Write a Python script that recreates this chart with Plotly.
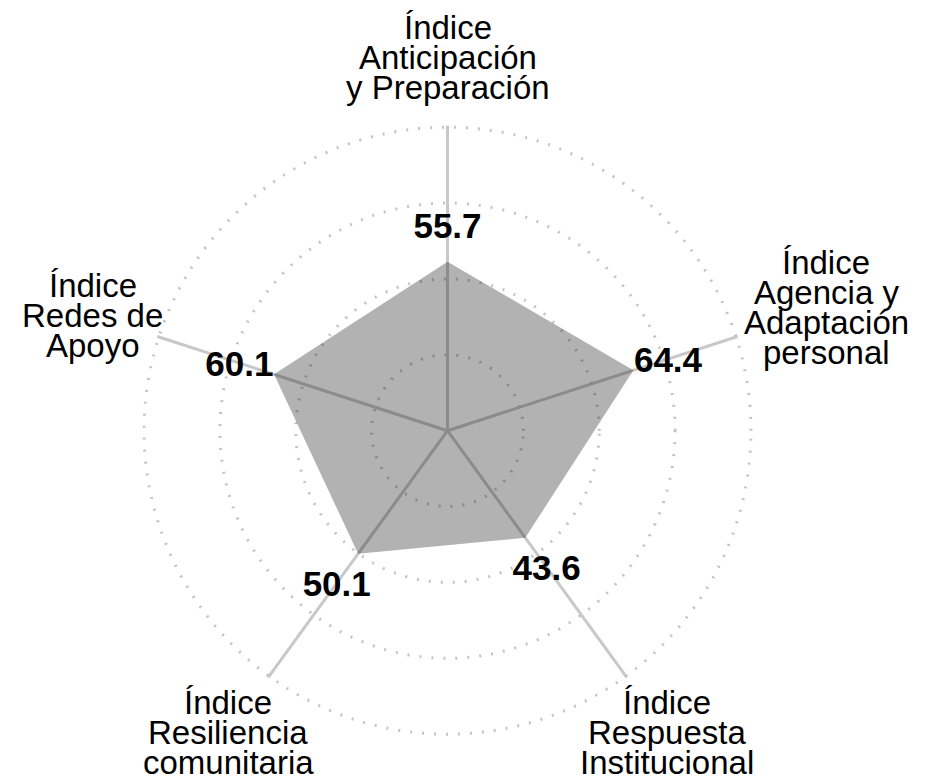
import math

import plotly.graph_objects as go

# categories in clockwise order, starting at the top
CATEGORIES = [
    "Índice<br>Anticipación<br>y Preparación",
    "Índice<br>Agencia y<br>Adaptación<br>personal",
    "Índice<br>Respuesta<br>Institucional",
    "Índice<br>Resiliencia<br>comunitaria",
    "Índice<br>Redes de<br>Apoyo",
]
VALUES = [55.7, 64.4, 43.6, 50.1, 60.1]
GRID_TICKS = [25, 50, 75, 100]
RANGE_MAX = 100.5

WIDTH, HEIGHT = 939, 784
PAGE_OFFSET = 8                                   # default body margin of the html page
CENTER_X, CENTER_Y, RADIUS = 447.5 - PAGE_OFFSET, 430.7 - PAGE_OFFSET, 305
LABEL_DIST = [373, 398, 373, 373, 373]           # pixels from centre
LINE_STEP = 30
VALUE_OFFSET = 12                                 # radial units
VALUE_DROP = 4.5                                  # px, to centre the digits on the point
FONT = "Liberation Sans, Arial, sans-serif"


def polar_domain(drop=0.0):
    cy = CENTER_Y + drop
    return dict(
        x=[(CENTER_X - RADIUS) / WIDTH, (CENTER_X + RADIUS) / WIDTH],
        y=[1 - (cy + RADIUS) / HEIGHT, 1 - (cy - RADIUS) / HEIGHT],
    )


def build_figure():
    fig = go.Figure()

    fig.add_trace(
        go.Scatterpolar(
            r=VALUES,
            theta=CATEGORIES,
            mode="lines",
            fill="toself",
            fillcolor="rgba(0,0,0,0.3)",
            line=dict(width=0, color="rgba(0,0,0,0)"),
            hoverinfo="skip",
        )
    )
    fig.add_trace(
        go.Scatterpolar(
            r=[v + VALUE_OFFSET for v in VALUES],
            theta=CATEGORIES,
            mode="text",
            text=[f"{v:.1f}" for v in VALUES],
            textposition="middle center",
            textfont=dict(family=FONT, size=35, color="black", weight="bold"),
            cliponaxis=False,
            hoverinfo="skip",
            subplot="polar2",
        )
    )

    hidden_radial = dict(range=[0, RANGE_MAX], visible=False)
    hidden_angular = dict(
        rotation=90, direction="clockwise", showticklabels=False,
        ticks="", showline=False, showgrid=False,
    )

    fig.update_layout(
        width=WIDTH,
        height=HEIGHT,
        autosize=False,
        showlegend=False,
        paper_bgcolor="white",
        margin=dict(l=0, r=0, t=0, b=0, pad=0),
        polar=dict(
            bgcolor="white",
            domain=polar_domain(),
            radialaxis=dict(
                range=[0, RANGE_MAX],
                tickvals=GRID_TICKS,
                showticklabels=False,
                ticks="",
                showline=False,
                gridcolor="#c4c4c4",
                gridwidth=2.5,
                griddash="2px,10px",
            ),
            angularaxis=dict(
                rotation=90,
                direction="clockwise",
                showticklabels=False,
                ticks="",
                showline=False,
                gridcolor="#c8c8c8",
                gridwidth=2.5,
            ),
        ),
        polar2=dict(
            bgcolor="rgba(0,0,0,0)",
            domain=polar_domain(VALUE_DROP),
            radialaxis=hidden_radial,
            angularaxis=hidden_angular,
        ),
    )

    # category labels, one annotation per line so the line spacing stays tight
    n = len(CATEGORIES)
    for i, (label, dist) in enumerate(zip(CATEGORIES, LABEL_DIST)):
        ang = math.radians(90 - 360 * i / n)
        bx = CENTER_X + dist * math.cos(ang)
        by = CENTER_Y - dist * math.sin(ang)
        lines = label.split("<br>")
        for j, line in enumerate(lines):
            y = by + (j - (len(lines) - 1) / 2) * LINE_STEP
            fig.add_annotation(
                x=bx / WIDTH,
                y=1 - y / HEIGHT,
                xref="paper",
                yref="paper",
                text=line,
                showarrow=False,
                xanchor="center",
                yanchor="middle",
                font=dict(family=FONT, size=33, color="black"),
            )
    return fig


fig = build_figure()
fig.write_html("out.html")
